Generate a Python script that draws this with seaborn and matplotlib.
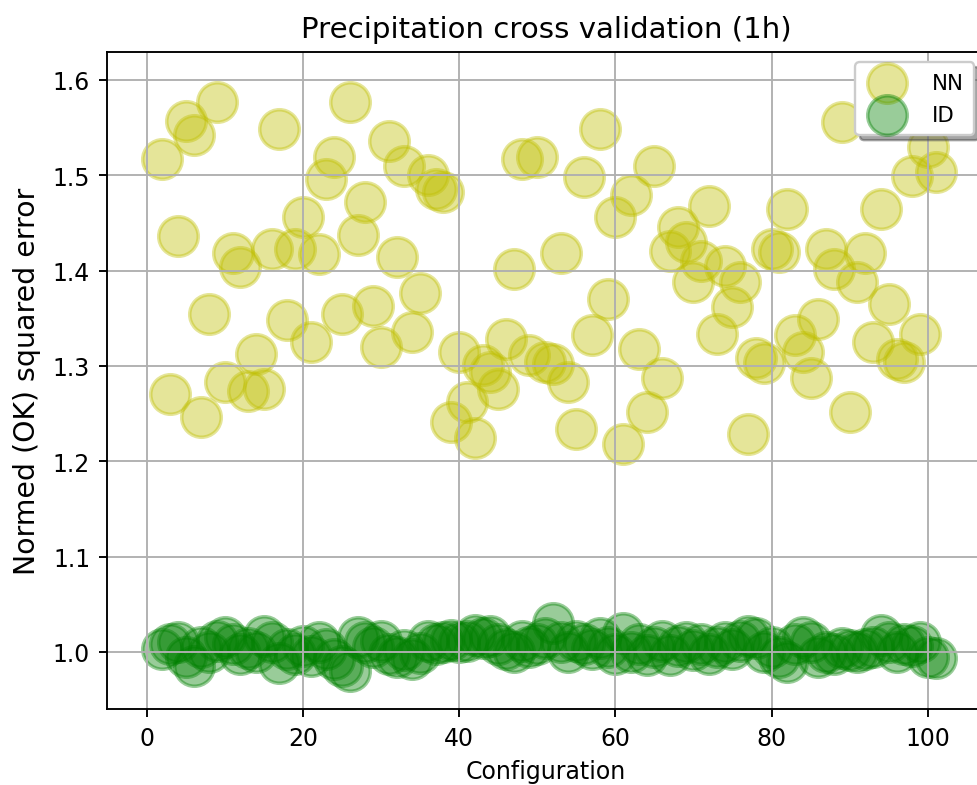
import numpy as np
import pandas as pd
import matplotlib
matplotlib.use("Agg")
import matplotlib.pyplot as plt
import seaborn as sns

# configurations evaluated in the cross validation
config = list(range(2, 102))

# normed (OK) squared error, nearest-neighbour interpolation
nn_error = [
    1.517, 1.271, 1.436, 1.557, 1.542, 1.246, 1.355, 1.577, 1.283, 1.418,   # 2-11
    1.404, 1.274, 1.313, 1.276, 1.423, 1.549, 1.348, 1.423, 1.456, 1.325,   # 12-21
    1.417, 1.496, 1.519, 1.355, 1.577, 1.437, 1.472, 1.363, 1.320, 1.536,   # 22-31
    1.414, 1.510, 1.336, 1.377, 1.500, 1.486, 1.482, 1.241, 1.315, 1.262,   # 32-41
    1.224, 1.301, 1.294, 1.276, 1.328, 1.402, 1.517, 1.311, 1.519, 1.304,   # 42-51
    1.302, 1.418, 1.283, 1.234, 1.498, 1.332, 1.549, 1.370, 1.456, 1.218,   # 52-61
    1.479, 1.318, 1.252, 1.510, 1.287, 1.421, 1.446, 1.430, 1.388, 1.410,   # 62-71
    1.468, 1.334, 1.405, 1.362, 1.388, 1.229, 1.308, 1.303, 1.423, 1.420,   # 72-81
    1.465, 1.332, 1.315, 1.287, 1.349, 1.423, 1.402, 1.556, 1.252, 1.388,   # 82-91
    1.418, 1.325, 1.465, 1.365, 1.307, 1.304, 1.499, 1.334, 1.530, 1.503,   # 92-101
]

# normed (OK) squared error, inverse distance interpolation
id_error = [
    1.003, 1.008, 1.010, 0.995, 0.985, 1.005, 1.000, 1.012, 1.016, 1.008,   # 2-11
    0.998, 1.004, 1.000, 1.017, 1.010, 0.988, 1.003, 0.998, 1.006, 0.996,   # 12-21
    1.010, 1.003, 0.993, 0.985, 0.980, 1.016, 1.010, 1.005, 1.012, 0.998,   # 22-31
    0.995, 1.002, 0.993, 0.999, 1.012, 1.008, 1.010, 1.013, 1.010, 1.012,   # 32-41
    1.018, 1.015, 1.017, 1.008, 1.003, 1.000, 1.012, 1.005, 1.008, 1.015,   # 42-51
    1.030, 1.010, 1.000, 1.012, 1.008, 1.003, 1.015, 1.005, 0.998, 1.020,   # 52-61
    1.000, 1.008, 0.997, 1.005, 1.012, 0.997, 1.006, 1.010, 1.002, 1.008,   # 62-71
    0.998, 1.005, 1.010, 1.003, 1.012, 1.017, 1.015, 1.000, 1.005, 0.995,   # 72-81
    0.990, 1.008, 1.016, 1.010, 0.995, 1.000, 0.998, 1.004, 1.002, 1.000,   # 82-91
    1.003, 1.005, 1.018, 1.010, 1.000, 1.008, 1.006, 1.010, 0.995, 0.994,   # 92-101
]

series_names = ["NN", "ID"]
series_colors = ["y", "g"]

DPI = 170
fig = plt.figure(figsize=(977 / DPI, 786 / DPI), dpi=DPI)
ax = fig.add_axes([0.1092, 0.0967, 0.8990, 0.8363])

for name, values, color in zip(series_names, [nn_error, id_error], series_colors):
    sns.scatterplot(x=config, y=values, color=color, alpha=0.4, s=280,
                    edgecolor=color, linewidth=1.5, label=name, ax=ax)

ax.set_xlim(-5.12, 107.33)
ax.set_ylim(0.9402, 1.6297)
ax.grid(True)
ax.tick_params(labelsize=10)
ax.set_title("Precipitation cross validation (1h)", fontsize=12.4)
ax.set_xlabel("Configuration", fontsize=10)
ax.set_ylabel("Normed (OK) squared error", fontsize=12, labelpad=5)
ax.legend(loc="upper right", shadow=True, fontsize=9, borderpad=0.5,
          handletextpad=1.1, labelspacing=0.56)

fig.savefig("out.png", dpi=DPI)
